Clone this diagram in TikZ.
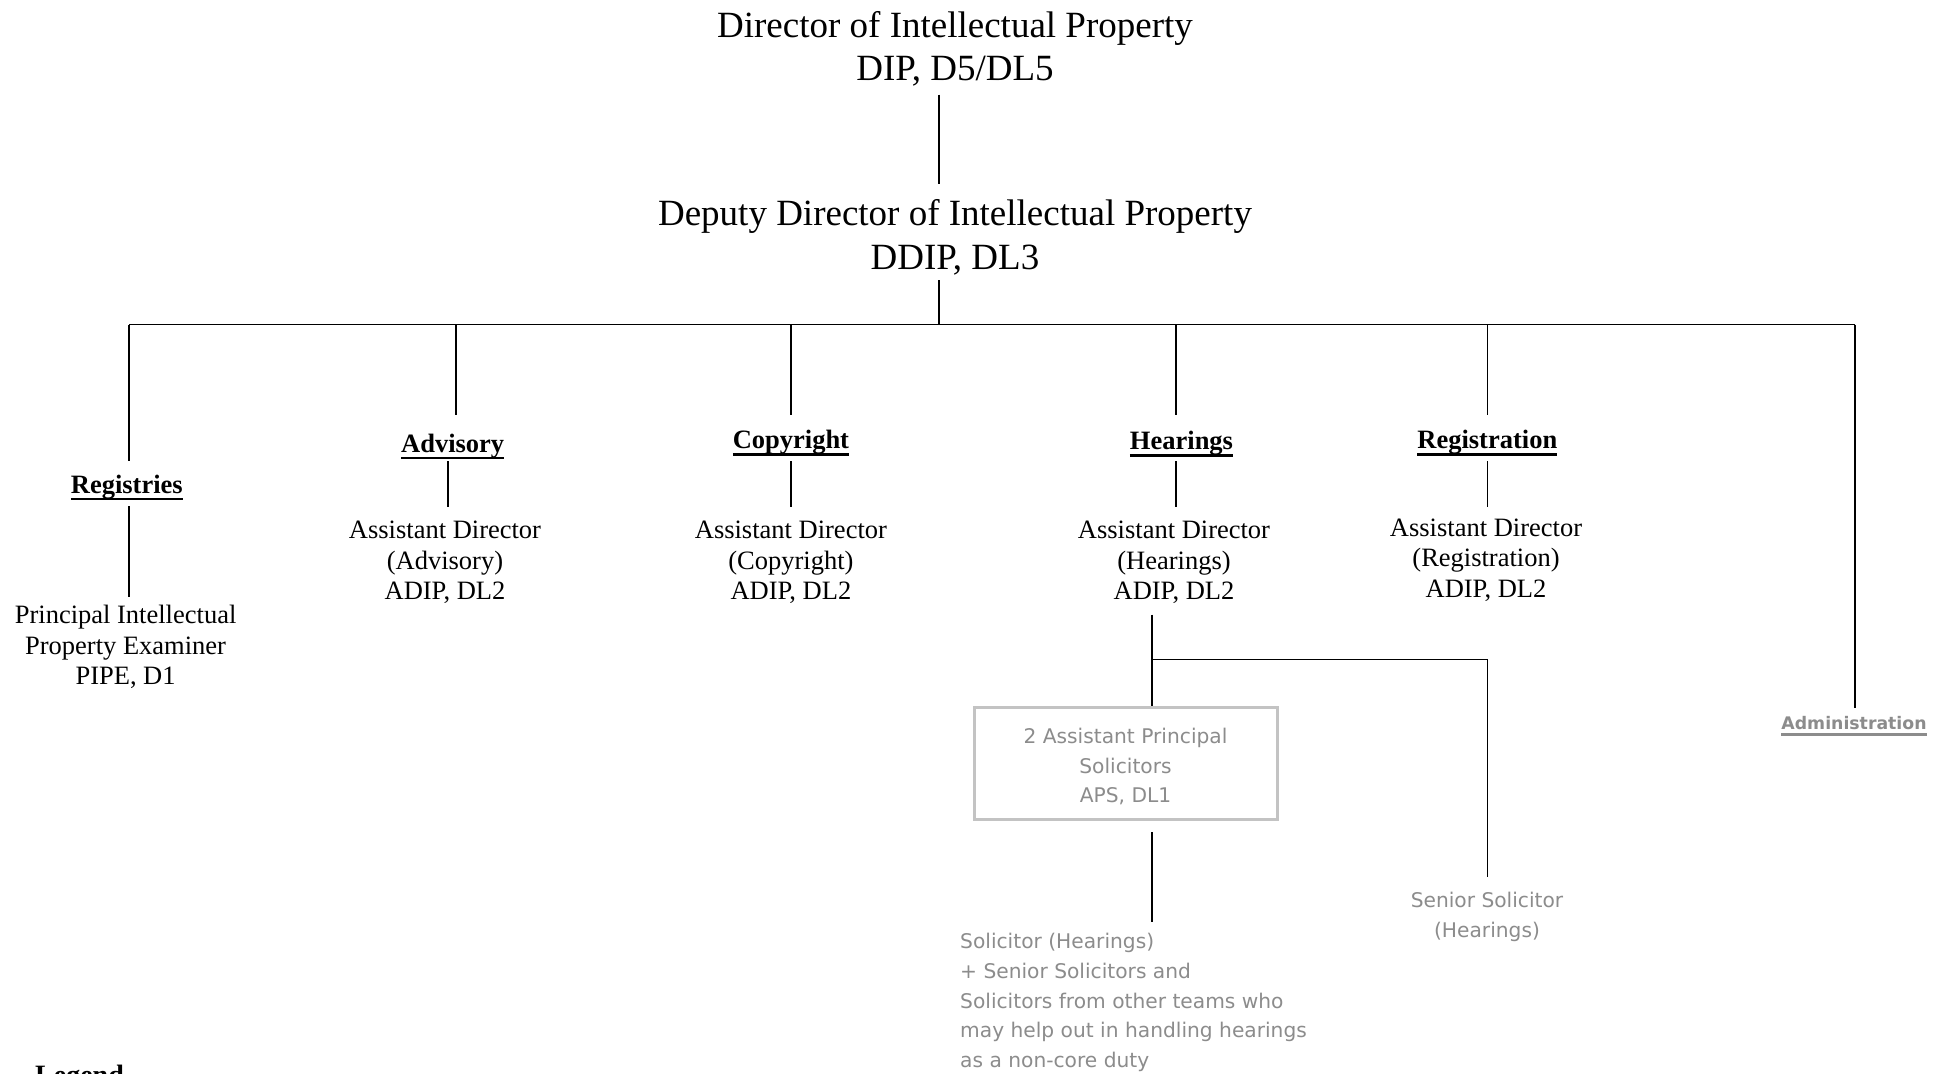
\documentclass[tikz,border=0pt]{standalone}
\usepackage{fontspec}
\setmainfont{Liberation Serif}
\newfontfamily\comicf{DejaVu Sans}
\definecolor{greytxt}{RGB}{140,140,140}
\definecolor{greybox}{RGB}{195,195,195}
\newcommand\thickul[1]{\setbox0\hbox{#1}\rlap{\raisebox{-7pt}{\rule{\wd0}{2.6pt}}}\box0}
\begin{document}
\begin{tikzpicture}[x=1pt,y=-1pt,
  conn/.style={line width=1.8pt, black},
  big/.style={inner sep=0pt, align=center, font=\fontsize{37}{43.5}\selectfont},
  body/.style={inner sep=0pt, align=center, font=\fontsize{26.5}{30.5}\selectfont},
  dept/.style={inner sep=0pt, font=\fontsize{26.5}{31}\selectfont\bfseries},
  grey/.style={inner sep=0pt, text=greytxt, font=\comicf\fontsize{20.2}{29.8}\selectfont},
  greybx/.style={draw=greybox, line width=3pt, minimum width=303pt, minimum height=112pt, inner sep=0pt},
]
\useasboundingbox (0,0) rectangle (1950,1073);
\clip (0,0) rectangle (1950,1073);
\fill[white] (0,0) rectangle (1950,1073);

% top
\node[big] (dip) at (955,49) {Director of Intellectual Property\\DIP, D5/DL5};
\node[big] (ddip) at (955,237.5) {Deputy Director of Intellectual Property\\DDIP, DL3};
\coordinate (t1) at (939,94.5);
\coordinate (t2) at (939,184);
\coordinate (t3) at (939,280);
\coordinate (bus) at (939,324.5);
\draw[conn] (t1) -- (t2);
\draw[conn] (t3) -- (bus);

% bus
\coordinate (bL) at (129.3,324.5);
\coordinate (bR) at (1855,324.5);
\draw[conn] (bL) -- (bR);

% department labels
\node[dept] (reg)  at (126.8,487.5) {\thickul{Registries}};
\node[dept] (adv)  at (452.7,446.5) {\thickul{Advisory}};
\node[dept] (copy) at (790.9,443) {\thickul{Copyright}};
\node[dept] (hear) at (1181.5,444) {\thickul{Hearings}};
\node[dept] (regn) at (1487.3,443) {\thickul{Registration}};
\node[inner sep=0pt, text=greytxt, font=\comicf\fontsize{17.3}{20}\selectfont\bfseries] (admin) at (1854,726) {\thickul{Administration}};

% drops from bus
\coordinate (d1) at (129.3,461.4);
\coordinate (d2) at (456,415.4);
\coordinate (d3) at (790.9,415.4);
\coordinate (d4) at (1176,415.4);
\coordinate (d5) at (1487.5,415.4);
\coordinate (d6) at (1855,707.6);
\draw[conn] (d1 |- bL) -- (d1);
\draw[conn] (d2 |- bL) -- (d2);
\draw[conn] (d3 |- bL) -- (d3);
\draw[conn] (d4 |- bL) -- (d4);
\draw[conn] (d5 |- bL) -- (d5);
\draw[conn] (d6 |- bL) -- (d6);

% role texts
\node[body] (pipe) at (125.6,647) {Principal Intellectual\\Property Examiner\\PIPE, D1};
\node[body] (adipa) at (445,562.5) {Assistant Director\\(Advisory)\\ADIP, DL2};
\node[body] (adipc) at (790.9,562.5) {Assistant Director\\(Copyright)\\ADIP, DL2};
\node[body] (adiph) at (1174,562.5) {Assistant Director\\(Hearings)\\ADIP, DL2};
\node[body] (adipr) at (1486,560) {Assistant Director\\(Registration)\\ADIP, DL2};

% label-to-role lines
\coordinate (r1a) at (129.3,506); \coordinate (r1b) at (129.3,597);
\draw[conn] (r1a) -- (r1b);
\coordinate (r2a) at (447.7,461.4); \coordinate (r2b) at (447.7,506.5);
\draw[conn] (r2a) -- (r2b);
\coordinate (r3a) at (790.9,461.4); \coordinate (r3b) at (790.9,506.5);
\draw[conn] (r3a) -- (r3b);
\coordinate (r4a) at (1176,461.4); \coordinate (r4b) at (1176,506.5);
\draw[conn] (r4a) -- (r4b);
\coordinate (r5a) at (1487.5,461.4); \coordinate (r5b) at (1487.5,506.5);
\draw[conn] (r5a) -- (r5b);

% hearings sub-structure
\node[greybx] (aps) at (1125.5,763.5) {};
\node[grey, align=center] (apstxt) at (1125.5,766.5) {2 Assistant Principal\\Solicitors\\APS, DL1};
\coordinate (h0) at (1151.7,614.5);
\coordinate (hj) at (1151.7,659.5);
\coordinate (hr) at (1487.5,659.5);
\coordinate (hs) at (1487.5,876.7);
\draw[conn] (h0) -- (aps.north -| h0);
\draw[conn] (hj) -- (hr) -- (hs);
\coordinate (s1) at (1151.7,832);
\coordinate (s2) at (1151.7,921.5);
\draw[conn] (s1) -- (s2);

\node[grey, align=center] (ssol) at (1487,917) {Senior Solicitor\\(Hearings)};
\node[grey, align=left, anchor=west] (sol) at (960,1002.5) {Solicitor (Hearings)\\+ Senior Solicitors and\\Solicitors from other teams who\\may help out in handling hearings\\as a non-core duty};

% legend (cut off at bottom, as in the reference)
\node[inner sep=0pt, anchor=base west, font=\fontsize{28}{32}\selectfont\bfseries] (legend) at (35,1084) {Legend};
\end{tikzpicture}
\end{document}
